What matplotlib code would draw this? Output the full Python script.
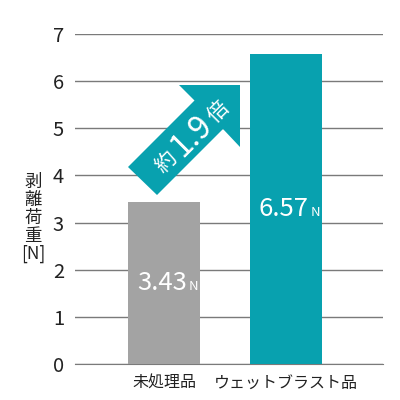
import matplotlib
matplotlib.use("Agg")
import matplotlib.pyplot as plt
from matplotlib.patches import Polygon

plt.rcParams['font.family'] = ['Noto Sans CJK JP', 'DejaVu Sans']

categories = ['未処理品', 'ウェットブラスト品']
values = [3.43, 6.57]
colors = ['#a3a3a3', '#08a1af']
yticks = [0, 1, 2, 3, 4, 5, 6, 7]
ratio_parts = ['約', '1.9', '倍']

fig = plt.figure(figsize=(4, 4), dpi=100)
ax = fig.add_axes([0.1875, 0.09, 0.77, 0.825])

x = [0, 1]
ax.bar(x, values, width=0.59, color=colors, zorder=3)
ax.set_xlim(-0.73, 1.795)
ax.set_ylim(0, 7)
ax.set_yticks(yticks)
ax.grid(axis='y', color='#7a7a7a', linewidth=1, zorder=0)
ax.set_axisbelow(True)
for s in ['top', 'right', 'left']:
    ax.spines[s].set_visible(False)
ax.spines['bottom'].set_color('#7a7a7a')
ax.tick_params(axis='y', length=0, pad=8, labelsize=14.5, labelcolor='#222222')
ax.tick_params(axis='x', length=0, pad=8, labelsize=11.5, labelcolor='#222222')
ax.set_xticks(x)
ax.set_xticklabels(categories)

# value labels
for xi, v in zip(x, values):
    yb = v / 2 - 0.15
    ax.annotate(f'{v:.2f}', (xi, yb), xytext=(16.5, 0), textcoords='offset points',
                ha='right', va='baseline', color='white', fontsize=18.5, zorder=4)
    ax.annotate('N', (xi, yb), xytext=(17.5, 0), textcoords='offset points',
                ha='left', va='baseline', color='white', fontsize=9.5, zorder=4)

# y label stacked vertically
fig.text(33 / 400, 1 - 218 / 400, '剥\n離\n荷\n重\n[N]', ha='center', va='center',
         fontsize=12.5, linespacing=1.0, color='#222222')

# arrow (pixel coords, y down)
pts = [(128, 167), (194.5, 100.5), (179, 85), (240, 85), (240, 147), (223, 129), (157, 195)]
arrow = Polygon([(px / 400, 1 - py / 400) for px, py in pts], closed=True,
                transform=fig.transFigure, facecolor='#08a1af', edgecolor='none', zorder=5)
fig.patches.append(arrow)
centers = [(166, 162), (192, 136), (218, 112)]
sizes = [15, 23, 15]
for t, (cx, cy), fs in zip(ratio_parts, centers, sizes):
    fig.text(cx / 400, 1 - cy / 400, t, rotation=45, rotation_mode='anchor',
             ha='center', va='center', color='white', fontsize=fs, zorder=6)

fig.savefig('out.png', dpi=100)
